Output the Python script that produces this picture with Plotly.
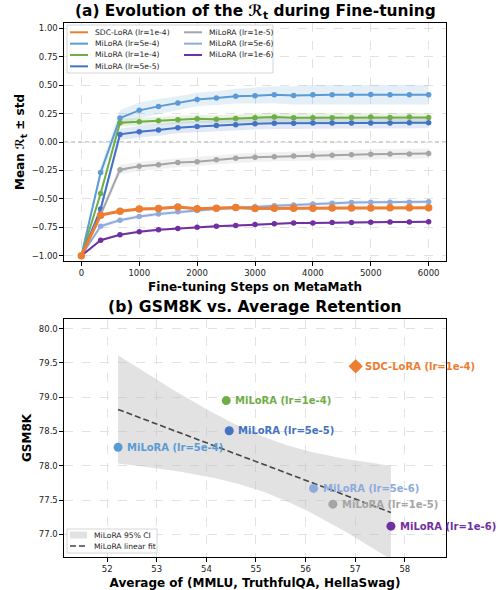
import numpy as np
import plotly.graph_objects as go

# ---------------- data: panel (a) ----------------
steps = [0, 333, 667, 1000, 1333, 1667, 2000, 2333, 2667, 3000,
         3333, 3667, 4000, 4333, 4667, 5000, 5333, 5667, 6000]

series_names = ["SDC-LoRA (lr=1e-4)", "MiLoRA (lr=5e-4)", "MiLoRA (lr=1e-4)",
                "MiLoRA (lr=5e-5)", "MiLoRA (lr=1e-5)", "MiLoRA (lr=5e-6)",
                "MiLoRA (lr=1e-6)"]

sdc_1e4_mean = [-1.0, -0.643, -0.608, -0.590, -0.584, -0.572, -0.586, -0.582, -0.576, -0.584,
                -0.582, -0.582, -0.582, -0.581, -0.580, -0.580, -0.579, -0.579, -0.579]
mi_5e4_mean = [-1.0, -0.269, 0.210, 0.278, 0.313, 0.342, 0.374, 0.386, 0.403, 0.406,
               0.415, 0.409, 0.415, 0.415, 0.415, 0.418, 0.415, 0.415, 0.415]
mi_1e4_mean = [-1.0, -0.453, 0.170, 0.178, 0.187, 0.196, 0.205, 0.200, 0.207, 0.213,
               0.219, 0.213, 0.213, 0.213, 0.216, 0.219, 0.216, 0.219, 0.216]
mi_5e5_mean = [-1.0, -0.590, 0.067, 0.090, 0.105, 0.126, 0.137, 0.146, 0.152, 0.160,
               0.164, 0.164, 0.167, 0.167, 0.167, 0.168, 0.168, 0.170, 0.170]
mi_1e5_mean = [-1.0, -0.640, -0.243, -0.213, -0.199, -0.181, -0.173, -0.155, -0.143, -0.135,
               -0.129, -0.123, -0.120, -0.117, -0.111, -0.108, -0.105, -0.105, -0.102]
mi_5e6_mean = [-1.0, -0.740, -0.687, -0.655, -0.632, -0.614, -0.602, -0.590, -0.579, -0.570,
               -0.561, -0.553, -0.544, -0.538, -0.532, -0.529, -0.529, -0.529, -0.526]
mi_1e6_mean = [-1.0, -0.863, -0.816, -0.789, -0.772, -0.760, -0.749, -0.740, -0.734, -0.725,
               -0.719, -0.713, -0.711, -0.708, -0.708, -0.705, -0.704, -0.703, -0.702]

sdc_1e4_std = [0.0, 0.012, 0.012, 0.012, 0.012, 0.012, 0.012, 0.012, 0.012, 0.012,
               0.012, 0.012, 0.012, 0.012, 0.012, 0.012, 0.012, 0.012, 0.012]
mi_5e4_std = [0.0, 0.05, 0.07, 0.07, 0.065, 0.06, 0.06, 0.06, 0.065, 0.07,
              0.075, 0.08, 0.085, 0.085, 0.085, 0.085, 0.085, 0.085, 0.085]
mi_1e4_std = [0.0, 0.03, 0.035, 0.035, 0.035, 0.035, 0.035, 0.035, 0.038, 0.04,
              0.04, 0.04, 0.04, 0.04, 0.04, 0.04, 0.04, 0.04, 0.04]
mi_5e5_std = [0.0, 0.04, 0.05, 0.05, 0.05, 0.05, 0.05, 0.05, 0.05, 0.05,
              0.05, 0.05, 0.05, 0.05, 0.05, 0.05, 0.05, 0.05, 0.05]
mi_1e5_std = [0.0, 0.03, 0.04, 0.04, 0.04, 0.04, 0.04, 0.04, 0.04, 0.04,
              0.04, 0.04, 0.04, 0.04, 0.042, 0.044, 0.044, 0.044, 0.044]
mi_5e6_std = [0.0, 0.02, 0.018, 0.017, 0.016, 0.016, 0.015, 0.015, 0.015, 0.015,
              0.015, 0.015, 0.015, 0.015, 0.015, 0.015, 0.015, 0.015, 0.015]
mi_1e6_std = [0.0, 0.012, 0.01, 0.01, 0.01, 0.01, 0.01, 0.01, 0.01, 0.01,
              0.01, 0.01, 0.01, 0.01, 0.01, 0.01, 0.01, 0.01, 0.01]

series_means = [sdc_1e4_mean, mi_5e4_mean, mi_1e4_mean, mi_5e5_mean,
                mi_1e5_mean, mi_5e6_mean, mi_1e6_mean]
series_stds = [sdc_1e4_std, mi_5e4_std, mi_1e4_std, mi_5e5_std,
               mi_1e5_std, mi_5e6_std, mi_1e6_std]

x_ticks_a = [0, 1000, 2000, 3000, 4000, 5000, 6000]
y_ticks_a = [-1.0, -0.75, -0.5, -0.25, 0.0, 0.25, 0.5, 0.75, 1.0]

# ---------------- data: panel (b) ----------------
avg_retention = [57.01, 52.22, 54.40, 54.46, 56.55, 56.16, 57.72]
gsm8k = [79.45, 78.27, 78.95, 78.51, 77.44, 77.67, 77.12]
x_ticks_b = [52, 53, 54, 55, 56, 57, 58]
y_ticks_b = [77.0, 77.5, 78.0, 78.5, 79.0, 79.5, 80.0]

# ---------------- styles ----------------
colors = ["#ED7D31", "#5B9BD5", "#70AD47", "#4472C4", "#A5A5A5", "#8FAADC", "#7030A0"]
FONT = "DejaVu Sans"
W, H = 502, 590
ML, MR, MT, MB = 64, 56, 23, 33


def rgba(hexc, a):
    h = hexc.lstrip("#")
    return "rgba(%d,%d,%d,%.3f)" % (int(h[0:2], 16), int(h[2:4], 16), int(h[4:6], 16), a)


fig = go.Figure()

# ---- panel (a): bands ----
draw_order = [1, 2, 3, 4, 5, 6, 0]
for i in draw_order:
    m = np.array(series_means[i])
    s = np.array(series_stds[i])
    fig.add_trace(go.Scatter(
        x=list(steps) + list(steps[::-1]),
        y=list(m + s) + list((m - s)[::-1]),
        fill="toself", fillcolor=rgba(colors[i], 0.16),
        line=dict(width=0), mode="lines", hoverinfo="skip",
        showlegend=False, xaxis="x", yaxis="y"))
# ---- panel (a): lines ----
for i in draw_order:
    is_sdc = i == 0
    fig.add_trace(go.Scatter(
        x=steps, y=series_means[i], mode="lines+markers",
        name=series_names[i],
        line=dict(color=colors[i], width=3 if is_sdc else 2),
        marker=dict(color=colors[i], size=7.5 if is_sdc else 5.5, line=dict(width=0)),
        showlegend=False, xaxis="x", yaxis="y"))

# ---- panel (b): regression on MiLoRA points ----
mx = np.array(avg_retention[1:])
my = np.array(gsm8k[1:])
n = len(mx)
slope, intercept = np.polyfit(mx, my, 1)
resid = my - (slope * mx + intercept)
s_err = np.sqrt(np.sum(resid ** 2) / (n - 2))
sxx = np.sum((mx - mx.mean()) ** 2)
xf = np.linspace(mx.min(), mx.max(), 120)
yf = slope * xf + intercept
half = 1.96 * s_err * np.sqrt(1.0 / n + (xf - mx.mean()) ** 2 / sxx)

fig.add_trace(go.Scatter(
    x=list(xf) + list(xf[::-1]), y=list(yf + half) + list((yf - half)[::-1]),
    fill="toself", fillcolor="rgba(190,190,190,0.45)", line=dict(width=0),
    mode="lines", hoverinfo="skip", showlegend=False, xaxis="x2", yaxis="y2"))
fig.add_trace(go.Scatter(
    x=xf, y=yf, mode="lines", line=dict(color="#444444", width=1.6, dash="6px,3px"),
    showlegend=False, xaxis="x2", yaxis="y2"))

for i in range(len(series_names)):
    fig.add_trace(go.Scatter(
        x=[avg_retention[i]], y=[gsm8k[i]], mode="markers",
        marker=dict(color=colors[i], size=11 if i == 0 else 9,
                    symbol="diamond" if i == 0 else "circle", line=dict(width=0)),
        showlegend=False, xaxis="x2", yaxis="y2"))
    fig.add_annotation(
        x=avg_retention[i], y=gsm8k[i], xref="x2", yref="y2",
        text="<b>%s</b>" % series_names[i], showarrow=False,
        xanchor="left", yanchor="middle", xshift=7,
        font=dict(family=FONT, size=10, color=colors[i]))

# ---- axes ----
plot_h = H - MT - MB
top_dom = [(H - MB - 261) / plot_h, 1.0]
bot_dom = [0.0, (H - MB - 319) / plot_h]

axis_common = dict(showline=True, mirror=True, linecolor="black", linewidth=1.1,
                   ticks="outside", ticklen=3.5, tickcolor="black", tickwidth=1,
                   showgrid=True, gridcolor="#e2e2e2", gridwidth=0.8, griddash="dash",
                   zeroline=False, automargin=False,
                   tickfont=dict(family=FONT, size=8.5, color="#222222"))

fig.update_layout(
    width=W, height=H, margin=dict(l=ML, r=MR, t=MT, b=MB, autoexpand=False),
    paper_bgcolor="white", plot_bgcolor="white", showlegend=False,
    xaxis=dict(domain=[0, 1], anchor="y", range=[-300, 6300], tickvals=x_ticks_a,
               title=dict(text="<b>Fine-tuning Steps on MetaMath</b>", standoff=5,
                          font=dict(family=FONT, size=12, color="black")),
               **axis_common),
    yaxis=dict(domain=top_dom, anchor="x", range=[-1.046, 1.046], tickvals=y_ticks_a,
               tickformat=".2f",
               title=dict(text="<b>Mean ℛ<sub>t</sub> ± std</b>", standoff=4,
                          font=dict(family=FONT, size=12, color="black")),
               **axis_common),
    xaxis2=dict(domain=[0, 1], anchor="y2", range=[51.13, 58.83], tickvals=x_ticks_b,
                title=dict(text="<b>Average of (MMLU, TruthfulQA, HellaSwag)</b>", standoff=5,
                           font=dict(family=FONT, size=12, color="black")),
                **axis_common),
    yaxis2=dict(domain=bot_dom, anchor="x2", range=[76.67, 80.14], tickvals=y_ticks_b,
                tickformat=".1f",
                title=dict(text="<b>GSM8K</b>", standoff=4,
                           font=dict(family=FONT, size=12, color="black")),
                **axis_common),
)

# zero reference line on panel (a)
fig.add_shape(type="line", xref="x domain", yref="y", x0=0, x1=1, y0=0, y1=0,
              line=dict(color="#a0a0a0", width=1, dash="4px,3px"), layer="below")

# ---- subplot titles ----
fig.add_annotation(text="<b>(a) Evolution of the ℛ<sub>t</sub> during Fine-tuning</b>",
                   xref="paper", yref="paper", x=0.5, y=(H - MB - 12) / plot_h,
                   showarrow=False, xanchor="center", yanchor="middle",
                   font=dict(family=FONT, size=15.4, color="black"))
fig.add_annotation(text="<b>(b) GSM8K vs. Average Retention</b>",
                   xref="paper", yref="paper", x=0.5, y=(H - MB - 307) / plot_h,
                   showarrow=False, xanchor="center", yanchor="middle",
                   font=dict(family=FONT, size=15.6, color="black"))

# ---- legend boxes (drawn manually to match compact matplotlib spacing) ----
PW = W - ML - MR


def dxp(px):
    return (px - ML) / PW


def dyt(py):
    return (261 - py) / 238.0


def dyb(py):
    return (557 - py) / 238.0


# panel (a) legend
fig.add_shape(type="rect", xref="x domain", yref="y domain",
              x0=dxp(67), x1=dxp(273), y0=dyt(73), y1=dyt(25),
              fillcolor="rgba(255,255,255,0.85)", line=dict(color="#cccccc", width=0.8),
              layer="above")
legend_cols = [[0, 1, 2, 3], [4, 5, 6]]
col_x = [70, 184]
row_y0, row_dy = 32.3, 11.35
for c, items in enumerate(legend_cols):
    for r, i in enumerate(items):
        yy = row_y0 + r * row_dy
        fig.add_shape(type="line", xref="x domain", yref="y domain",
                      x0=dxp(col_x[c]), x1=dxp(col_x[c] + 18), y0=dyt(yy), y1=dyt(yy),
                      line=dict(color=colors[i], width=2), layer="above")
        fig.add_annotation(text=series_names[i], xref="x domain", yref="y domain",
                           x=dxp(col_x[c] + 22.5), y=dyt(yy), showarrow=False,
                           xanchor="left", yanchor="middle",
                           font=dict(family=FONT, size=7.6, color="#222222"))

# panel (b) legend
fig.add_shape(type="rect", xref="x2 domain", yref="y2 domain",
              x0=dxp(67), x1=dxp(157), y0=dyb(553), y1=dyb(529),
              fillcolor="rgba(255,255,255,0.85)", line=dict(color="#cccccc", width=0.8),
              layer="above")
fig.add_shape(type="rect", xref="x2 domain", yref="y2 domain",
              x0=dxp(70), x1=dxp(87), y0=dyb(538.5), y1=dyb(531.5),
              fillcolor="rgba(190,190,190,0.45)", line=dict(width=0), layer="above")
fig.add_shape(type="line", xref="x2 domain", yref="y2 domain",
              x0=dxp(70), x1=dxp(87), y0=dyb(546), y1=dyb(546),
              line=dict(color="#444444", width=1.6, dash="6px,3px"), layer="above")
for yy, txt in [(535, "MiLoRA 95% CI"), (546, "MiLoRA linear fit")]:
    fig.add_annotation(text=txt, xref="x2 domain", yref="y2 domain",
                       x=dxp(92), y=dyb(yy), showarrow=False,
                       xanchor="left", yanchor="middle",
                       font=dict(family=FONT, size=7.6, color="#222222"))

fig.write_html("out.html")
